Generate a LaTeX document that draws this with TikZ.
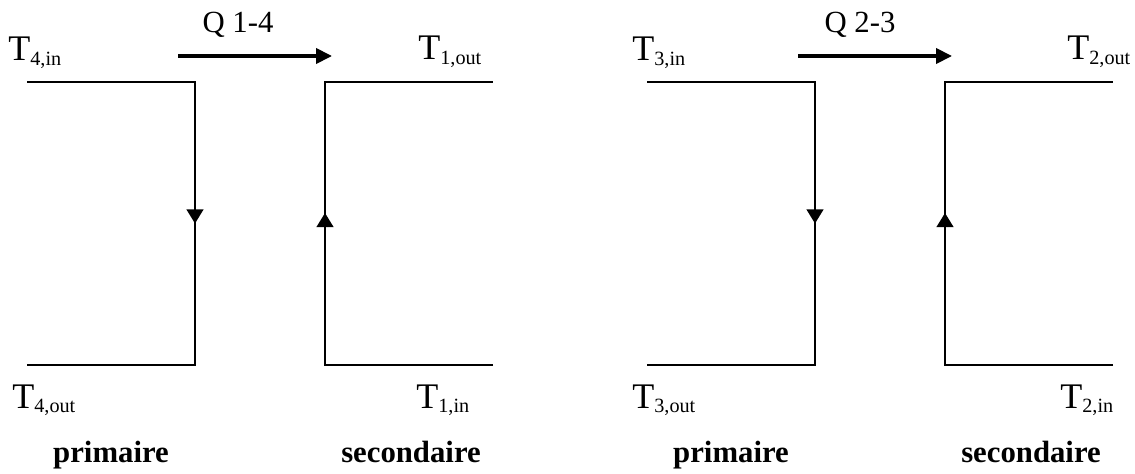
\documentclass[tikz,border=0pt]{standalone}
\usepackage{fontspec}
\setmainfont{Liberation Serif}
\usetikzlibrary{arrows.meta,positioning,decorations.markings}
\newcommand{\tsub}[1]{\raisebox{-0.3ex}{\fontsize{11.5}{12}\selectfont #1}}

\begin{document}
\begin{tikzpicture}[
    x=0.02cm, y=-0.02cm,
    pipe/.style={line width=1.1pt,line join=miter},
    flow/.style={pipe,postaction={decorate},
      decoration={markings,mark=at position #1 with
        {\arrow{Triangle[length=8pt,width=9.5pt]}}}},
    heat/.style={-{Triangle[length=9pt,width=8.5pt]},line width=2pt},
    temp/.style={anchor=base west,inner sep=0pt,font=\fontsize{20.5}{24}\selectfont},
    qlab/.style={anchor=base,inner sep=0pt,font=\fontsize{17.5}{21}\selectfont},
    side/.style={anchor=base,inner sep=0pt,font=\fontsize{17.5}{21}\selectfont\bfseries}
  ]
    \useasboundingbox (0,0) rectangle (1135,473);

    %% exchanger 1-4
    \coordinate (p4a) at (27,82);  \coordinate (p4b) at (195,82);
    \coordinate (p4c) at (195,365); \coordinate (p4d) at (27,365);
    \coordinate (s1a) at (493,365); \coordinate (s1b) at (325,365);
    \coordinate (s1c) at (325,82);  \coordinate (s1d) at (493,82);
    \coordinate (q14a) at (178,56); \coordinate (q14b) at (332,56);

    \draw[flow=0.5] (p4a) -- (p4b) -- (p4c) -- (p4d);
    \draw[flow=0.517] (s1a) -- (s1b) -- (s1c) -- (s1d);
    \draw[heat] (q14a) -- (q14b);

    \node[qlab] (lq14) at (238,33) {Q 1-4};
    \node[temp] (t4in) at (8,61) {T\tsub{4,in}};
    \node[temp] (t1out) at (418,60) {T\tsub{1,out}};
    \node[temp] (t4out) at (12,408) {T\tsub{4,out}};
    \node[temp] (t1in) at (416,408) {T\tsub{1,in}};
    \node[side] (prim1) at (111,462) {primaire};
    \node[side] (sec1) at (411,462) {secondaire};

    %% exchanger 2-3
    \coordinate (p3a) at (647,82);  \coordinate (p3b) at (815,82);
    \coordinate (p3c) at (815,365); \coordinate (p3d) at (647,365);
    \coordinate (s2a) at (1113,365); \coordinate (s2b) at (945,365);
    \coordinate (s2c) at (945,82);   \coordinate (s2d) at (1113,82);
    \coordinate (q23a) at (798,56); \coordinate (q23b) at (952,56);

    \draw[flow=0.5] (p3a) -- (p3b) -- (p3c) -- (p3d);
    \draw[flow=0.517] (s2a) -- (s2b) -- (s2c) -- (s2d);
    \draw[heat] (q23a) -- (q23b);

    \node[qlab] (lq23) at (860,33) {Q 2-3};
    \node[temp] (t3in) at (632,61) {T\tsub{3,in}};
    \node[temp] (t2out) at (1067,60) {T\tsub{2,out}};
    \node[temp] (t3out) at (632,408) {T\tsub{3,out}};
    \node[temp] (t2in) at (1060,408) {T\tsub{2,in}};
    \node[side] (prim2) at (731,462) {primaire};
    \node[side] (sec2) at (1031,462) {secondaire};
  \end{tikzpicture}
\end{document}
